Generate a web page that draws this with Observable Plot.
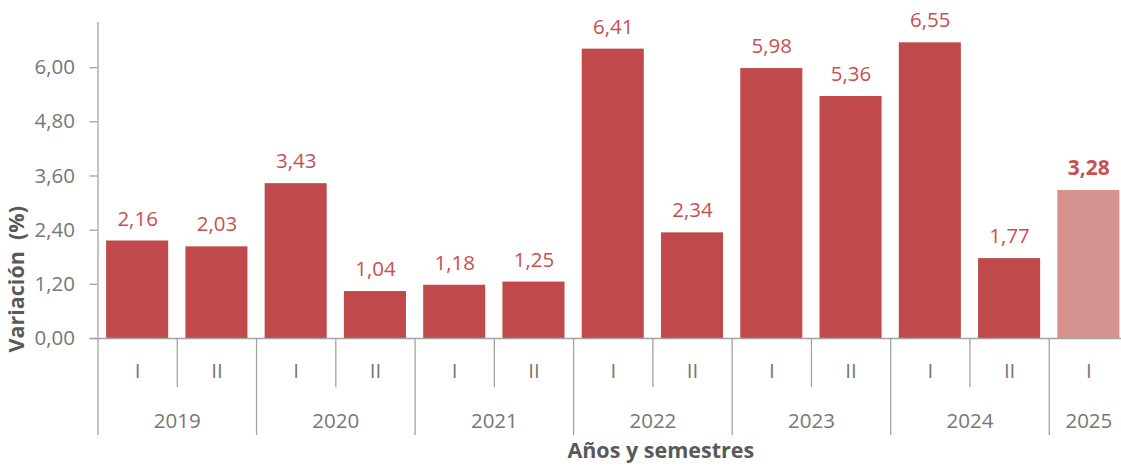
<!DOCTYPE html>
<html>
<head>
<meta charset="utf-8">
<script src="https://cdn.jsdelivr.net/npm/d3@7"></script>
<script src="https://cdn.jsdelivr.net/npm/@observablehq/plot@0.6"></script>
<style>
  html, body { margin: 0; padding: 0; background: #fff; overflow: hidden; }
  #chart svg { overflow: visible; display: block; }
</style>
</head>
<body>
<div id="chart"></div>
<script>
// ---- data ----
const years = ["2019","2019","2020","2020","2021","2021","2022","2022","2023","2023","2024","2024","2025"];
const semesters = ["I","II","I","II","I","II","I","II","I","II","I","II","I"];
const values = [2.16, 2.03, 3.43, 1.04, 1.18, 1.25, 6.41, 2.34, 5.98, 5.36, 6.55, 1.77, 3.28];
const provisional = [false,false,false,false,false,false,false,false,false,false,false,false,true];
const yTicks = [0, 1.2, 2.4, 3.6, 4.8, 6.0];
const yMax = 7;
const yTitle = "Variación  (%)";
const xTitle = "Años y semestres";

// ---- derived tables ----
const rows = values.map((v, i) => ({i, year: years[i], sem: semesters[i], value: v, prov: provisional[i]}));
const yearGroups = [];
rows.forEach(r => {
  const g = yearGroups[yearGroups.length - 1];
  if (g && g.year === r.year) g.end = r.i + 1;
  else yearGroups.push({year: r.year, start: r.i, end: r.i + 1});
});
const yearBounds = yearGroups.map(g => g.start);
const semBounds = rows.filter((r, k) => k > 0 && years[k - 1] === r.year).map(r => r.i);

const fmt = d => d.toFixed(2).replace(".", ",");
const FONT = "Open Sans, sans-serif";
const GRAY = "#a3a3a3";
const TXT = "#777777";
const RED = "#c04a4b";
const RED_LIGHT = "#d6928f";
const LABEL = "#c9504f";
const FS = 20.5;

const chart = Plot.plot({
  width: 1121,
  height: 468,
  marginLeft: 97.5,
  marginRight: 0,
  marginTop: 22,
  marginBottom: 130,
  style: {fontFamily: FONT, background: "#fff"},
  x: {type: "linear", domain: [0, values.length], range: [97.5, 1128], axis: null},
  y: {domain: [0, yMax], axis: null},
  marks: [
    Plot.rectY(rows, {
      x1: d => d.i, x2: d => d.i + 1, y: "value",
      insetLeft: 8.6, insetRight: 8.6,
      fill: d => d.prov ? RED_LIGHT : RED
    }),
    Plot.axisY(yTicks, {
      tickSize: 8, tickPadding: 15, tickFormat: fmt,
      fontSize: FS, fill: TXT, stroke: GRAY, strokeWidth: 1.3, label: null
    }),
    // baseline
    Plot.ruleY([0], {stroke: GRAY, strokeWidth: 1.3, insetLeft: -8}),
    // left axis line (continues as first year separator)
    Plot.ruleX([0], {y1: yMax, y2: 0, insetBottom: -97, stroke: GRAY, strokeWidth: 1.3}),
    // year separators
    Plot.ruleX(yearBounds.filter(b => b > 0), {x: d => d, y1: 0, y2: 0, insetBottom: -97, stroke: GRAY, strokeWidth: 1.3}),
    // semester separators
    Plot.ruleX(semBounds, {x: d => d, y1: 0, y2: 0, insetBottom: -49, stroke: GRAY, strokeWidth: 1.3}),
    // semester labels
    Plot.text(rows, {x: d => d.i + 0.5, y: 0, text: "sem", dy: 33, fontSize: FS, fill: TXT}),
    // year labels
    Plot.text(yearGroups, {x: d => (d.start + d.end) / 2, y: 0, text: "year", dy: 83, fontSize: FS, fill: TXT}),
    // value labels (final)
    Plot.text(rows.filter(d => !d.prov), {
      x: d => d.i + 0.5, y: "value", text: d => fmt(d.value), dy: -22,
      fontSize: FS, fill: LABEL
    }),
    // value labels (provisional, bold)
    Plot.text(rows.filter(d => d.prov), {
      x: d => d.i + 0.5, y: "value", text: d => fmt(d.value), dy: -22,
      fontSize: 21, fontWeight: "bold", fill: LABEL
    }),
    // axis titles
    Plot.text([xTitle], {frameAnchor: "bottom", dx: 51, dy: 119, text: d => d, fontSize: 21.5, fontWeight: "bold", fill: "#595959"}),
    Plot.text([yTitle], {frameAnchor: "bottom-left", dx: -74, dy: 14, rotate: -90, textAnchor: "start", text: d => d, fontSize: 21.5, fontWeight: "bold", fill: "#595959"})
  ]
});
document.getElementById("chart").append(chart);
</script>
</body>
</html>
